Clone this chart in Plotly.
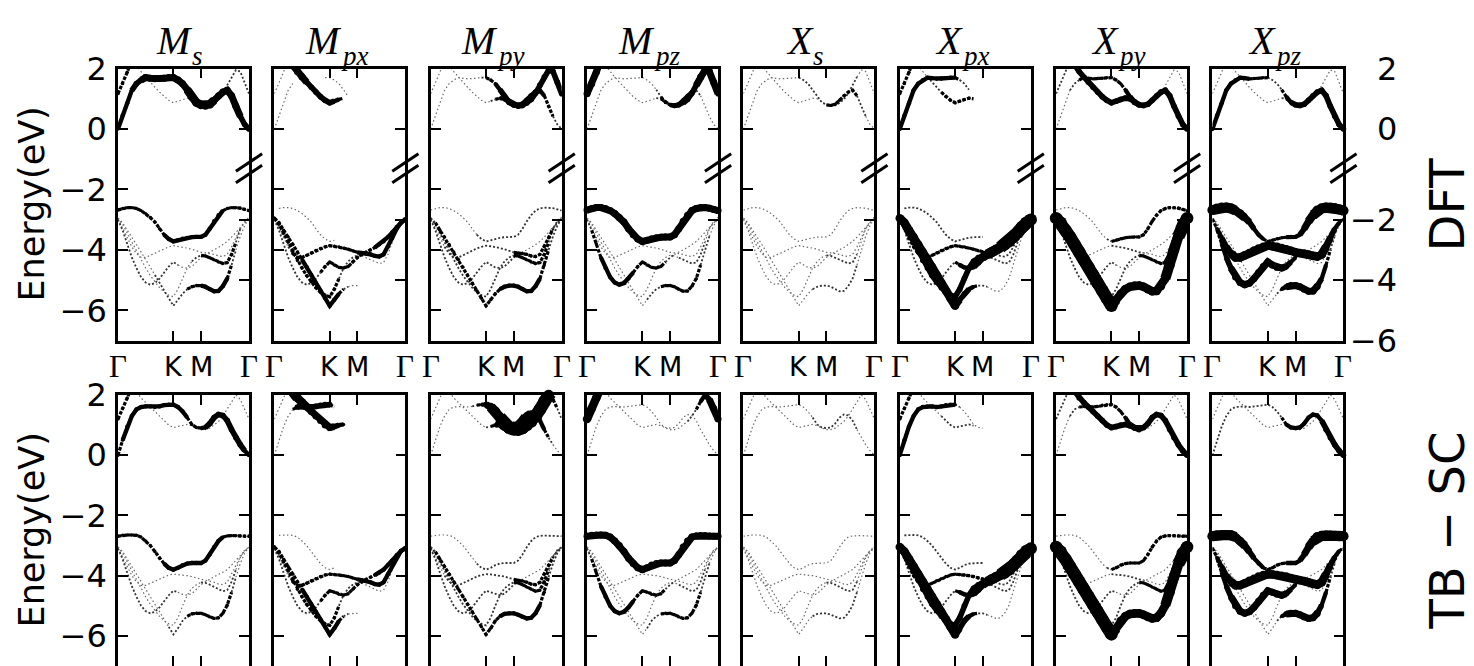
import numpy as np
import plotly.graph_objects as go

# ---------------------------------------------------------------- k path
# Γ-K-M-Γ, path length normalised to 1 (|ΓK| : |KM| : |MΓ| = 4/3 : 2/3 : 2/√3)
K_POS, M_POS = 0.4226, 0.634
KPTS = np.concatenate([
    np.linspace(0.0, K_POS, 13),
    np.linspace(K_POS, M_POS, 7)[1:],
    np.linspace(M_POS, 1.0, 12)[1:],
])
K_TICKS = [0.0, K_POS, M_POS, 1.0]
K_LABELS = ["Γ", "K", "M", "Γ"]

# ---------------------------------------------------------------- panels
ORB_BASE = ["M", "M", "M", "M", "X", "X", "X", "X"]
ORB_SUB = ["s", "px", "py", "pz", "s", "px", "py", "pz"]
ROW_NAMES = ["DFT", "TB − SC"]
BAND_NAMES = ["C1", "C2", "C3", "V1", "V2", "V3", "V4", "V5"]

# ---------------------------------------------------------------- DFT bands (eV)
# index: 0..12 Γ→K | 13..18 K→M | 19..29 M→Γ
DFT_C1 = [0.0, 0.45, 0.85, 1.28, 1.5, 1.62, 1.7, 1.68, 1.66, 1.67, 1.68, 1.7, 1.7,
          1.62, 1.5, 1.3, 1.07, 0.88, 0.8,
          0.78, 0.82, 0.95, 1.1, 1.22, 1.28, 1.1, 0.75, 0.42, 0.15, 0.0]
DFT_C2 = [1.17, 1.5, 1.88, 2.3] + [None] * 26
DFT_C3 = [None, None, None, 2.35, 2.1, 1.9, 1.72, 1.55, 1.38, 1.22, 1.07, 0.95, 0.87,
          0.92, 0.98, 1.02, 1.0, 0.9, 0.8,
          0.76, 0.78, 0.86, 0.98, 1.18, 1.45, 1.72, 1.95, 1.9, 1.55, 1.17]
DFT_V1 = [-2.68, -2.63, -2.6, -2.6, -2.63, -2.7, -2.8, -2.93, -3.08, -3.3, -3.5, -3.64, -3.72,
          -3.68, -3.63, -3.6, -3.58, -3.57, -3.57,
          -3.5, -3.3, -3.05, -2.85, -2.7, -2.63, -2.6, -2.6, -2.62, -2.66, -2.7]
DFT_V2 = [-2.95, -3.1, -3.35, -3.57, -3.82, -4.07, -4.32, -4.57, -4.83, -5.1, -5.35, -5.6, -5.85,
          -5.65, -5.45, -5.3, -5.22, -5.18, -5.18,
          -5.22, -5.3, -5.37, -5.36, -5.2, -4.95, -4.5, -4.0, -3.55, -3.2, -2.95]
DFT_V3 = [-2.95, -3.15, -3.45, -3.75, -4.05, -4.35, -4.6, -4.85, -5.05, -5.25, -5.4, -5.5, -5.55,
          -5.3, -4.95, -4.6, -4.38, -4.25, -4.18,
          -4.2, -4.26, -4.33, -4.4, -4.45, -4.42, -4.15, -3.75, -3.3, -3.05, -2.92]
DFT_V4 = [-3.0, -3.35, -3.8, -4.25, -4.6, -4.9, -5.08, -5.15, -5.1, -4.95, -4.75, -4.55, -4.4,
          -4.5, -4.58, -4.6, -4.55, -4.4, -4.25,
          -4.15, -4.08, -4.0, -3.92, -3.82, -3.72, -3.58, -3.42, -3.25, -3.1, -3.0]
DFT_V5 = [-2.98, -3.3, -3.6, -3.9, -4.12, -4.25, -4.25, -4.18, -4.1, -4.02, -3.95, -3.9, -3.86,
          -3.88, -3.9, -3.94, -3.98, -4.03, -4.08,
          -4.1, -4.12, -4.15, -4.2, -4.22, -4.15, -3.9, -3.6, -3.3, -3.1, -2.98]

# ---------------------------------------------------------------- TB-SC bands (eV)
TB_C1 = [0.0, 0.5, 0.95, 1.3, 1.52, 1.6, 1.62, 1.62, 1.6, 1.62, 1.66, 1.68, 1.68,
         1.6, 1.45, 1.25, 1.02, 0.92, 0.9,
         0.92, 1.05, 1.25, 1.35, 1.32, 1.15, 0.85, 0.58, 0.35, 0.15, 0.0]
TB_C2 = [1.2, 1.55, 1.9, 2.25] + [None] * 26
TB_C3 = [None, None, None, 2.3, 2.1, 1.9, 1.75, 1.6, 1.45, 1.3, 1.15, 1.0, 0.92,
         0.95, 1.0, 1.02, 0.98, 0.9, 0.85,
         0.85, 0.9, 1.0, 1.12, 1.3, 1.52, 1.78, 2.0, 1.85, 1.55, 1.2]
TB_V1 = [-2.69, -2.66, -2.65, -2.65, -2.66, -2.72, -2.85, -3.0, -3.2, -3.42, -3.6, -3.74, -3.8,
         -3.74, -3.65, -3.6, -3.58, -3.58, -3.58,
         -3.5, -3.3, -3.05, -2.85, -2.72, -2.68, -2.67, -2.67, -2.68, -2.69, -2.69]
TB_V2 = [-3.05, -3.2, -3.45, -3.7, -3.95, -4.2, -4.45, -4.7, -4.95, -5.2, -5.45, -5.7, -5.95,
         -5.75, -5.5, -5.35, -5.27, -5.25, -5.25,
         -5.3, -5.37, -5.42, -5.4, -5.25, -4.98, -4.55, -4.05, -3.6, -3.25, -3.05]
TB_V3 = [-3.05, -3.25, -3.55, -3.85, -4.15, -4.45, -4.7, -4.95, -5.15, -5.35, -5.5, -5.6, -5.65,
         -5.4, -5.0, -4.65, -4.42, -4.3, -4.22,
         -4.24, -4.3, -4.38, -4.45, -4.52, -4.48, -4.2, -3.8, -3.4, -3.15, -3.05]
TB_V4 = [-3.1, -3.45, -3.9, -4.35, -4.7, -5.0, -5.18, -5.25, -5.2, -5.05, -4.85, -4.65, -4.5,
         -4.55, -4.62, -4.65, -4.6, -4.45, -4.3,
         -4.2, -4.12, -4.05, -3.98, -3.9, -3.8, -3.65, -3.5, -3.32, -3.18, -3.1]
TB_V5 = [-3.08, -3.4, -3.7, -4.0, -4.2, -4.32, -4.32, -4.25, -4.17, -4.1, -4.03, -3.98, -3.95,
         -3.96, -3.98, -4.0, -4.03, -4.08, -4.12,
         -4.15, -4.18, -4.22, -4.28, -4.3, -4.22, -3.95, -3.65, -3.38, -3.18, -3.08]

# ---------------------------------------------------------------- orbital weights (0-9)
W_DFT_MS = {
    "C1": "3444556666666|666777|77666666555", "C2": "3333",
    "C3": "0001111111111|111111|22222222222",
    "V1": "3333333333344|444444|44443333333", "V2": "1111111112222|222333|44444421111",
    "V3": "1111111111111|111122|33333332111", "V4": "2222222222222|111111|11111111111",
    "V5": "1111111111111|111111|11111111111",
}
W_DFT_MPX = {
    "C1": "1111100000011|111100|00000000000", "C2": "1111",
    "C3": "0007666555555|432000|00000000000",
    "V1": "0111111111111|100000|00000000000", "V2": "3333333444444|432111|00000000000",
    "V3": "3333333333333|322222|11111111111", "V4": "2222222222233|333333|33334444444",
    "V5": "1111333333333|333333|44444444444",
}
W_DFT_MPY = {
    "C1": "1111111111112|334555|55555433221", "C2": "1111",
    "C3": "0001111111111|123455|55555555555",
    "V1": "1111111111122|222222|22222222222", "V2": "2233333333333|333444|44444332222",
    "V3": "2222222222222|222222|33333332222", "V4": "2222222222222|222222|11111111111",
    "V5": "1111222222222|222222|33333333222",
}
W_DFT_MPZ = {
    "C1": "1111111111111|111233|44444211111", "C2": "6666",
    "C3": "0000111111111|111233|44455566665",
    "V1": "6666666666666|666666|66666666666", "V2": "1111111111111|122233|33333322111",
    "V3": "1111111111111|111111|11222221111", "V4": "2233444444333|333322|11111111111",
    "V5": "1111111111111|111111|11111111111",
}
W_DFT_XS = {
    "C1": "1111111111111|222222|33333322111", "C2": "1111",
    "C3": "0001111111111|111111|22222211111",
    "V1": "1111111111111|111111|11111111111", "V2": "1111111111111|111222|22222211111",
    "V3": "1111111111111|111111|22222211111", "V4": "1111111111111|111111|11111111111",
    "V5": "1111111111111|111111|11111111111",
}
W_DFT_XPX = {
    "C1": "4444444444443|221000|00000000000", "C2": "3333",
    "C3": "0001111222333|333200|00000000000",
    "V1": "0222222222222|222221|00000000000", "V2": "7777777777777|554322|11111111111",
    "V3": "5555555555555|555554|22222222222", "V4": "2222222222222|444566|78889999999",
    "V5": "3333333333333|333333|22222222222",
}
W_DFT_XPY = {
    "C1": "1111223333333|333455|55555555555", "C2": "2222",
    "C3": "0005555555555|555555|11111111111",
    "V1": "1111111111112|333333|33333333333", "V2": "9999999999999|777777|77777788899",
    "V3": "2222222222222|222222|33333345566", "V4": "2222222222222|111111|11111111111",
    "V5": "1111111111111|222222|11111111111",
}
W_DFT_XPZ = {
    "C1": "4444444433332|222345|55555555555", "C2": "1111",
    "C3": "0001111111111|111234|32111111111",
    "V1": "8888877654433|333344|45678888888", "V2": "1111111111111|113566|66666432111",
    "V3": "1111111111111|111111|11111111111", "V4": "1234566666666|666543|11111111111",
    "V5": "2345677777777|777777|77777765432",
}

W_TB_MS = {
    "C1": "3344444444444|443333|45555555544", "C2": "3333",
    "C3": "0001111111111|111111|11111111111",
    "V1": "3333333333344|444444|44443333333", "V2": "1111111111112|222333|33333321111",
    "V3": "1111111111111|111111|22222221111", "V4": "2222222222222|111111|11111111111",
    "V5": "1111111111111|111111|11111111111",
}
W_TB_MPX = {**W_DFT_MPX,
            "C1": "1111155555555|100000|00000000000",
            "C3": "0008877666666|543000|00000000000"}
W_TB_MPY = {**W_DFT_MPY,
            "C1": "1111111111235|788999|99876432111",
            "C3": "0001111111111|245789|99999998321"}
W_TB_MPZ = {**W_DFT_MPZ,
            "C1": "1111111111111|111111|11111111111", "C2": "7777",
            "C3": "0001111111111|111111|11112234566"}
W_TB_XS = {**W_DFT_XS,
           "C1": "1111111111111|111222|22222211111",
           "C3": "0001111111111|111111|11111111111"}
W_TB_XPX = {**W_DFT_XPX,
            "C1": "4444444444443|111111|00000000000",
            "C3": "0001111111222|222200|00000000000"}
W_TB_XPY = dict(W_DFT_XPY)
W_TB_XPZ = {**W_DFT_XPZ,
            "C1": "2222222222222|222344|44444455555",
            "C3": "0001111111111|111111|11111111111"}

DFT_BANDS = dict(zip(BAND_NAMES, [DFT_C1, DFT_C2, DFT_C3, DFT_V1, DFT_V2, DFT_V3, DFT_V4, DFT_V5]))
TB_BANDS = dict(zip(BAND_NAMES, [TB_C1, TB_C2, TB_C3, TB_V1, TB_V2, TB_V3, TB_V4, TB_V5]))
DFT_WEIGHTS = [W_DFT_MS, W_DFT_MPX, W_DFT_MPY, W_DFT_MPZ, W_DFT_XS, W_DFT_XPX, W_DFT_XPY, W_DFT_XPZ]
TB_WEIGHTS = [W_TB_MS, W_TB_MPX, W_TB_MPY, W_TB_MPZ, W_TB_XS, W_TB_XPX, W_TB_XPY, W_TB_XPZ]

# left axis ticks; the DFT row carries a broken right axis (lower part shifted by 1 eV)
Y_TICKS = [2, 0, -2, -4, -6]
Y_LABELS = ["2", "0", "−2", "−4", "−6"]
RIGHT_TICKS = [2, 0, -3, -5, -7]
RIGHT_LABELS = ["2", "0", "−2", "−4", "−6"]
Y_RANGE = [-7, 2]

# ---------------------------------------------------------------- geometry / style
FIG_W, FIG_H = 1474, 666
COL_LEFT = [118 + 156.35 * c for c in range(8)]
PANEL_W = 131
ROW_TOP = [51, 387]
ROW_H = [280, 279]

LEVEL_WIDTH = {1: 1.2, 2: 1.8, 3: 3.2, 4: 4.3, 5: 5.6, 6: 7.0, 7: 8.5, 8: 10.2, 9: 12.5}
LEVEL_COLOR = {1: "#6a6a6a", 2: "#333333"}
LEVEL_DASH = {1: "1.5px,2.5px", 2: "2px,2px", 3: "3.5px,1.5px"}

SANS = "DejaVu Sans"
SERIF = "Liberation Serif"
TICK_SIZE = 32
TITLE_SIZE = 40
SUB_SIZE = 27
# approximate advance widths (em) of the italic serif glyphs used in the titles
GLYPH_EM = {"M": 0.833, "X": 0.611, "s": 0.389, "p": 0.5, "x": 0.444, "y": 0.444, "z": 0.389}


def parse_weights(s, n):
    digits = [int(ch) for ch in s.replace("|", "")]
    return digits + [0] * (n - len(digits))


def xdom(c):
    return [COL_LEFT[c] / FIG_W, (COL_LEFT[c] + PANEL_W) / FIG_W]


def ydom(r):
    top = ROW_TOP[r]
    bot = top + ROW_H[r]
    return [max(0.0, 1 - bot / FIG_H), 1 - top / FIG_H]


fig = go.Figure()


def draw_panel(n, bands, weights):
    xr = "x" if n == 1 else f"x{n}"
    yr = "y" if n == 1 else f"y{n}"
    seg = {}
    mx, my, ms, mc = [], [], [], []
    for name in BAND_NAMES:
        e = bands[name]
        w = parse_weights(weights.get(name, ""), len(e))
        run = {"lvl": None, "x": [], "y": []}

        def flush():
            if run["lvl"] is not None and len(run["x"]) > 1:
                sx, sy = seg.setdefault(run["lvl"], ([], []))
                sx.extend(run["x"] + [None])
                sy.extend(run["y"] + [None])

        for i in range(len(e) - 1):
            if e[i] is None or e[i + 1] is None or w[i] == 0 or w[i + 1] == 0:
                flush()
                run = {"lvl": None, "x": [], "y": []}
                continue
            lvl = int((w[i] + w[i + 1]) / 2 + 0.5)
            if lvl != run["lvl"]:
                flush()
                run = {"lvl": lvl, "x": [KPTS[i]], "y": [e[i]]}
            run["x"].append(KPTS[i + 1])
            run["y"].append(e[i + 1])
        flush()

        for i in range(len(e)):
            if e[i] is None or w[i] == 0:
                continue
            if w[i] >= 4:
                mx.append(KPTS[i]); my.append(e[i]); ms.append(LEVEL_WIDTH[w[i]]); mc.append("#000000")
            elif w[i] == 3 or e[i] > Y_RANGE[1]:
                mx.append(KPTS[i]); my.append(e[i]); ms.append(3.4); mc.append("#000000" if w[i] >= 3 else LEVEL_COLOR[w[i]])

    for lvl in sorted(seg):
        sx, sy = seg[lvl]
        fig.add_trace(go.Scatter(
            x=sx, y=sy, xaxis=xr, yaxis=yr, mode="lines", showlegend=False, hoverinfo="skip",
            line=dict(color=LEVEL_COLOR.get(lvl, "#000000"), width=LEVEL_WIDTH[lvl],
                      dash=LEVEL_DASH.get(lvl, "solid")),
        ))
    if mx:
        fig.add_trace(go.Scatter(
            x=mx, y=my, xaxis=xr, yaxis=yr, mode="markers", showlegend=False, hoverinfo="skip",
            cliponaxis=False, opacity=1.0,
            marker=dict(size=ms, color=mc, opacity=1.0, line=dict(width=0)),
        ))


layout = {}
annotations = []
shapes = []
for r, (bands, wlist) in enumerate([(DFT_BANDS, DFT_WEIGHTS), (TB_BANDS, TB_WEIGHTS)]):
    for c in range(8):
        n = r * 8 + c + 1
        draw_panel(n, bands, wlist[c])
        xkey = "xaxis" if n == 1 else f"xaxis{n}"
        ykey = "yaxis" if n == 1 else f"yaxis{n}"
        yr = "y" if n == 1 else f"y{n}"
        xr = "x" if n == 1 else f"x{n}"
        layout[xkey] = dict(
            domain=xdom(c), anchor=yr, range=[0, 1], showgrid=False, zeroline=False,
            showline=True, linecolor="black", linewidth=2.6, mirror="ticks",
            ticks="inside", ticklen=10, tickwidth=1.5, tickcolor="black",
            tickvals=K_TICKS, showticklabels=False,
        )
        layout[ykey] = dict(
            domain=ydom(r), anchor=xr, range=Y_RANGE, autorange=False,
            showgrid=False, zeroline=False,
            showline=True, linecolor="black", linewidth=2.6,
            mirror=(True if r == 0 else "ticks"),
            ticks="inside", ticklen=10, tickwidth=1.5, tickcolor="black",
            tickvals=Y_TICKS, ticktext=Y_LABELS, showticklabels=(c == 0),
            ticklabelstandoff=2,
            tickfont=dict(family=SANS, size=TICK_SIZE, color="black"),
        )
        if r == 0:
            # right-hand ticks of the broken DFT panels
            m = 16 + c + 1
            layout[f"yaxis{m}"] = dict(
                overlaying=yr, anchor=xr, side="right", range=Y_RANGE, autorange=False,
                showgrid=False, zeroline=False, showline=False,
                ticks="inside", ticklen=10, tickwidth=1.5, tickcolor="black",
                tickvals=RIGHT_TICKS, showticklabels=False,
            )
            fig.add_trace(go.Scatter(x=[None], y=[None], xaxis=xr, yaxis=f"y{m}",
                                     mode="markers", showlegend=False, hoverinfo="skip"))
            # "//" break marks on the right spine
            for (b0, b1) in [(-1.40, -0.82), (-1.78, -1.20)]:
                shapes.append(dict(type="line", xref=f"{xr} domain", yref=yr,
                                   x0=0.9, x1=1.1, y0=b0, y1=b1,
                                   line=dict(color="black", width=3)))
            # orbital title: italic letter + italic subscript
            cx = COL_LEFT[c] + PANEL_W / 2
            w_main = GLYPH_EM[ORB_BASE[c]] * TITLE_SIZE
            w_sub = sum(GLYPH_EM[ch] for ch in ORB_SUB[c]) * SUB_SIZE
            split = cx + (w_main - w_sub) / 2
            annotations.append(dict(
                x=split / FIG_W, y=1 - 47 / FIG_H, xref="paper", yref="paper",
                xanchor="right", yanchor="bottom", text=ORB_BASE[c], showarrow=False,
                font=dict(family=SERIF, size=TITLE_SIZE, color="black", style="italic"),
            ))
            annotations.append(dict(
                x=(split - 5) / FIG_W, y=1 - 56 / FIG_H, xref="paper", yref="paper",
                xanchor="left", yanchor="bottom", text=ORB_SUB[c], showarrow=False,
                font=dict(family=SERIF, size=SUB_SIZE, color="black", style="italic"),
            ))
            # Γ-K-M-Γ labels under the DFT panels
            for kv, lab in zip(K_TICKS, K_LABELS):
                annotations.append(dict(
                    x=kv, y=1 - 358 / FIG_H, xref=xr, yref="paper", xanchor="center", yanchor="middle",
                    text=lab, showarrow=False,
                    font=dict(family=(SERIF if lab == "Γ" else SANS), size=(31 if lab == "Γ" else 27),
                              color="black"),
                ))

# right-hand tick labels of the broken DFT axis (right-aligned, as on the left)
for tv, tl in zip(RIGHT_TICKS, RIGHT_LABELS):
    annotations.append(dict(
        x=1399 / FIG_W, y=tv, xref="paper", yref="y8", xanchor="right", yanchor="middle",
        text=tl, showarrow=False, font=dict(family=SANS, size=TICK_SIZE, color="black"),
    ))

# row labels
for r in range(2):
    yc = 1 - (ROW_TOP[r] + ROW_H[r] / 2) / FIG_H
    annotations.append(dict(x=32 / FIG_W, y=yc, xref="paper", yref="paper", text="Energy(eV)",
                            textangle=-90, showarrow=False, xanchor="center", yanchor="middle",
                            font=dict(family=SANS, size=35, color="black")))
    annotations.append(dict(x=1447 / FIG_W, y=yc, xref="paper", yref="paper", text=ROW_NAMES[r],
                            textangle=-90, showarrow=False, xanchor="center", yanchor="middle",
                            font=dict(family=SANS, size=48, color="black")))

fig.update_layout(
    width=FIG_W, height=FIG_H, margin=dict(l=0, r=0, t=0, b=0),
    paper_bgcolor="white", plot_bgcolor="white",
    annotations=annotations, shapes=shapes, **layout,
)
fig.write_html("out.html", post_script="document.body.style.margin='0px';")
